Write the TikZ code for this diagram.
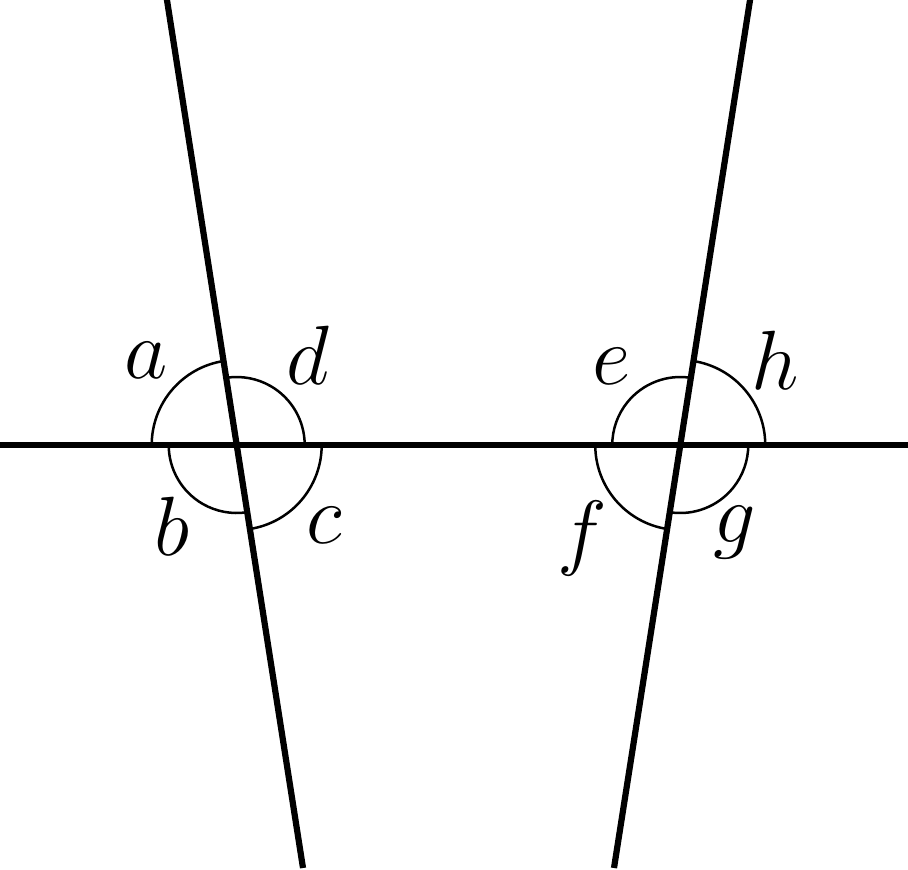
\documentclass[tikz,border=0pt]{standalone}
\begin{document}
\begin{tikzpicture}[
    x=0.5pt,
    y=0.5pt,
    line/.style={
        line width=3.1pt
    },
    anglearc/.style={
        line width=1.25pt
    },
    anglelabel/.style={
        anchor=base,
        inner sep=0pt,
        font=\Huge,
        scale=1.69,
        transform shape
    }
]
\useasboundingbox (0,0) rectangle (908,870);

% Estremi delle rette
\coordinate (west) at (0,425);
\coordinate (east) at (908,425);
\coordinate (lefttop) at (165.4,880);
\coordinate (leftbottom) at (303,2);
\coordinate (righttop) at (751.6,880);
\coordinate (rightbottom) at (614,2);

\coordinate (L) at (intersection of west--east and lefttop--leftbottom);
\coordinate (R) at (intersection of west--east and righttop--rightbottom);

% Rette
\draw[line] (west) -- (east);
\draw[line] (lefttop) -- (leftbottom);
\draw[line] (righttop) -- (rightbottom);

% Archi degli angoli
\draw[anglearc] ([shift={(98.9:42.5pt)}]L) arc[start angle=98.9, end angle=180, radius=42.5pt];
\draw[anglearc] ([shift={(0:34pt)}]L) arc[start angle=0, end angle=98.9, radius=34pt];
\draw[anglearc] ([shift={(180:34pt)}]L) arc[start angle=180, end angle=278.9, radius=34pt];
\draw[anglearc] ([shift={(278.9:42.5pt)}]L) arc[start angle=278.9, end angle=360, radius=42.5pt];

\draw[anglearc] ([shift={(81.1:34pt)}]R) arc[start angle=81.1, end angle=180, radius=34pt];
\draw[anglearc] ([shift={(0:42.5pt)}]R) arc[start angle=0, end angle=81.1, radius=42.5pt];
\draw[anglearc] ([shift={(180:42.5pt)}]R) arc[start angle=180, end angle=261.1, radius=42.5pt];
\draw[anglearc] ([shift={(261.1:34pt)}]R) arc[start angle=261.1, end angle=360, radius=34pt];

% Etichette
\node[anglelabel] (a) at (146,491) {$a$};
\node[anglelabel] (d) at (308,485) {$d$};
\node[anglelabel] (b) at (172.5,314) {$b$};
\node[anglelabel] (c) at (324,326) {$c$};
\node[anglelabel] (e) at (612,485) {$e$};
\node[anglelabel] (h) at (775,480) {$h$};
\node[anglelabel] (f) at (582,310) {$f$};
\node[anglelabel] (g) at (735,327) {$g$};

\end{tikzpicture}
\end{document}
